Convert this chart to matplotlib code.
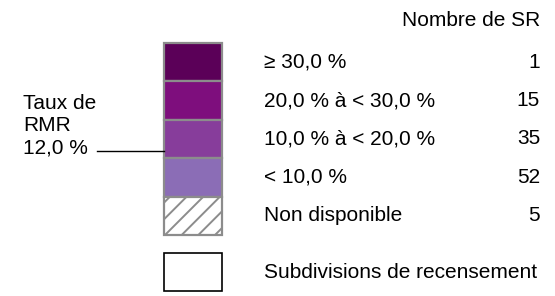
import matplotlib.pyplot as plt
from matplotlib.patches import Rectangle

plt.rcParams['font.family'] = ['Liberation Sans', 'DejaVu Sans']
plt.rcParams['hatch.color'] = "#8c8c8c"
plt.rcParams['hatch.linewidth'] = 1.4

categories = ["≥ 30,0 %", "20,0 % à < 30,0 %", "10,0 % à < 20,0 %", "< 10,0 %", "Non disponible"]
counts = [1, 15, 35, 52, 5]
colors = ["#5b0058", "#7e0e7d", "#873d9b", "#8b6db6", "white"]
rmr_rate = 12.0  # taux de la RMR, en %
# limites des classes (en %) pour placer le trait de la RMR
class_edges = [40.0, 30.0, 20.0, 10.0, 0.0]

fig = plt.figure(figsize=(5.55, 2.96), dpi=100)
ax = fig.add_axes([0, 0, 1, 1])
ax.set_xlim(0, 555)
ax.set_ylim(296, 0)
ax.axis("off")

box_x, box_w = 164, 58
top, row_h = 43, 38.4
fs = 15

ax.text(540, 21, "Nombre de SR", ha="right", va="center", fontsize=fs)

for i, (lab, n, c) in enumerate(zip(categories, counts, colors)):
    y0 = top + i * row_h
    hatch = "//" if lab == "Non disponible" else None
    ax.add_patch(Rectangle((box_x, y0), box_w, row_h, facecolor=c, edgecolor="#8c8c8c",
                           linewidth=1.6, hatch=hatch))
    ax.text(264, y0 + row_h / 2, lab, ha="left", va="center", fontsize=fs)
    ax.text(540, y0 + row_h / 2, str(n), ha="right", va="center", fontsize=fs)

# position du trait RMR dans la classe 10-20 %
k = 2
frac = (class_edges[k] - rmr_rate) / (class_edges[k] - class_edges[k + 1])
y_rmr = top + (k + frac) * row_h
ax.plot([97, box_x], [y_rmr, y_rmr], color="black", linewidth=1)
ax.text(23, y_rmr - 25, "Taux de\nRMR\n" + f"{rmr_rate:.1f} %".replace(".", ","),
        ha="left", va="center", fontsize=fs, linespacing=1.2)

ax.add_patch(Rectangle((box_x, 253), box_w, 38, facecolor="white", edgecolor="black", linewidth=1.2))
ax.text(264, 272, "Subdivisions de recensement", ha="left", va="center", fontsize=fs)

fig.savefig("out.png", dpi=100)
